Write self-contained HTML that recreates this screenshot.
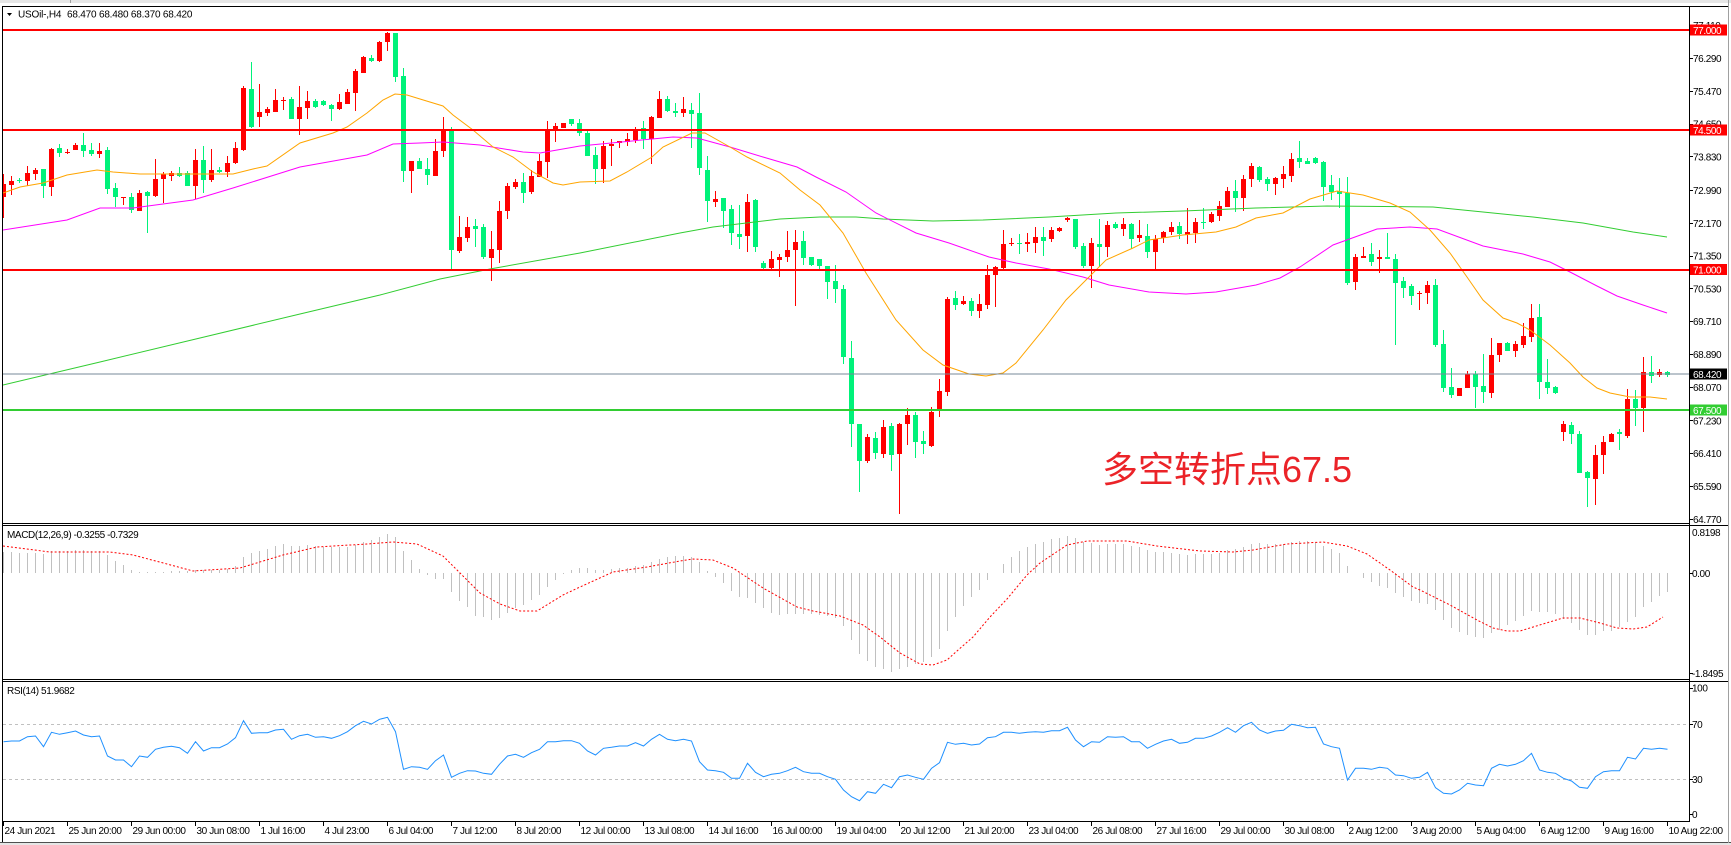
<!DOCTYPE html>
<html><head><meta charset="utf-8">
<style>
html,body{margin:0;padding:0;background:#fff;}
svg{display:block;}
text{font-family:"Liberation Sans","Noto Sans CJK SC",sans-serif;}
.s{font-size:10px;fill:#000;letter-spacing:-0.4px;}
.w{font-size:10px;fill:#fff;letter-spacing:-0.4px;}
</style></head>
<body>
<svg id="c" width="1731" height="845" viewBox="0 0 1731 845" xmlns="http://www.w3.org/2000/svg">
<defs>
<clipPath id="cm"><rect x="3" y="7" width="1686" height="516"/></clipPath>
<clipPath id="cd"><rect x="3" y="526" width="1686" height="153"/></clipPath>
<clipPath id="cr"><rect x="3" y="682" width="1686" height="139"/></clipPath>
</defs>
<rect width="1731" height="845" fill="#fff"/>
<rect x="0" y="0" width="1731" height="3" fill="#e6e6e6"/>
<line x1="70.5" y1="0" x2="70.5" y2="3" stroke="#a0a0a0"/>

<!-- MAIN PANEL -->
<g clip-path="url(#cm)">
  <g id="candles" shape-rendering="crispEdges"></g>
  <polyline fill="none" stroke="#32cd32" stroke-width="1" points="3,385 100,362 200,338 300,314 380,295 440,279 490,269 580,253 680,233 713,227 780,219 820,217 856,217 883,219 933,221 983,220 1049,217 1116,213 1183,211 1256,208 1327,206 1433,207 1483,212 1533,217 1583,223 1633,232 1667,237"/>
  <polyline fill="none" stroke="#ff00ff" stroke-width="1" points="3,230 67,220 100,208 133,208 193,200 233,188 300,167 367,155 393,144 420,143 443,142 480,145 523,152 540,153 580,146 673,137 697,138 730,147 763,157 797,167 816,177 846,192 876,213 916,233 949,243 989,257 1016,263 1049,269 1083,277 1109,285 1149,292 1186,294 1216,292 1256,285 1280,278 1300,267 1333,245 1377,229 1410,227 1437,229 1483,246 1523,254 1550,262 1570,272 1597,286 1617,296 1643,305 1667,313"/>
  <polyline fill="none" stroke="#ffa500" stroke-width="1" points="3,193 20,187 43,183 67,175 97,170 113,172 140,174 180,174 233,174 253,169 267,166 300,143 333,133 347,127 367,113 383,100 395,94 407,95 420,99 443,106 453,115 473,130 493,147 513,157 533,172 553,183 563,185 580,182 610,181 627,172 652,157 663,147 692,133 705,133 730,147 747,157 780,173 800,190 820,205 843,233 866,273 896,320 923,350 943,365 969,374 986,376 1003,373 1016,363 1043,330 1066,300 1089,277 1106,260 1133,248 1149,240 1183,235 1216,232 1236,227 1256,218 1283,213 1310,199 1337,191 1363,195 1390,203 1410,212 1430,230 1450,253 1467,277 1483,300 1503,318 1517,323 1530,330 1550,345 1570,363 1583,377 1597,388 1610,393 1630,397 1650,397 1667,399"/>
  <rect x="3" y="373.5" width="1686" height="1" fill="#778899"/>
  <rect x="3" y="29" width="1686" height="2" fill="#ff0000"/>
  <rect x="3" y="129" width="1686" height="2" fill="#ff0000"/>
  <rect x="3" y="269" width="1686" height="2" fill="#ff0000"/>
  <rect x="3" y="409" width="1686" height="2" fill="#32cd32"/>
  <text x="1102" y="482" font-size="36" fill="#eb2328" style="font-family:'Liberation Sans','Noto Sans CJK SC',sans-serif;">多空转折点67.5</text>
</g>
<polygon points="7,13 12,13 9.5,16" fill="#000"/>
<text class="s" x="18" y="17.5" style="letter-spacing:-0.2px">USOil-,H4</text>
<text class="s" x="67" y="17.5" style="letter-spacing:-0.2px">68.470 68.480 68.370 68.420</text>

<!-- MACD PANEL -->
<g clip-path="url(#cd)">
  <g id="hist" shape-rendering="crispEdges"></g>
  <polyline fill="none" stroke="#ff0000" stroke-width="1" stroke-dasharray="2,2" points="3,546 50,552 110,552 133,555 167,564 193,571 240,568 283,555 317,547 367,544 393,542 417,544 443,556 467,580 480,593 500,604 520,611 537,611 563,595 580,587 613,572 647,567 680,561 693,559 713,560 733,568 763,588 797,607 813,611 840,616 863,625 880,637 900,653 920,664 933,665 947,660 957,651 973,637 990,617 1007,599 1027,575 1040,563 1067,545 1087,541 1127,541 1157,546 1200,551 1233,552 1253,550 1287,544 1323,542 1347,546 1367,554 1390,570 1413,587 1420,590 1450,605 1477,620 1493,628 1507,631 1520,631 1543,624 1563,618 1580,618 1600,623 1617,628 1633,629 1647,627 1663,617"/>
</g>
<text class="s" x="7" y="538">MACD(12,26,9) -0.3255 -0.7329</text>

<!-- RSI PANEL -->
<g clip-path="url(#cr)">
  <line x1="3" y1="724.5" x2="1689" y2="724.5" stroke="#c0c0c0" stroke-dasharray="3,3"/>
  <line x1="3" y1="779.5" x2="1689" y2="779.5" stroke="#c0c0c0" stroke-dasharray="3,3"/>
  <polyline id="rsi" fill="none" stroke="#1e90ff" stroke-width="1" points=""/>
</g>
<text class="s" x="7" y="694">RSI(14) 51.9682</text>

<!-- BORDERS -->
<g fill="none" stroke="#000" stroke-width="1" shape-rendering="crispEdges">
  <line x1="2" y1="6.5" x2="1728" y2="6.5"/>
  <line x1="2.5" y1="6" x2="2.5" y2="843"/>
  <line x1="1689.5" y1="6" x2="1689.5" y2="822"/>
  <line x1="2" y1="523.5" x2="1690" y2="523.5"/>
  <line x1="2" y1="525.5" x2="1728" y2="525.5"/>
  <line x1="2" y1="679.5" x2="1690" y2="679.5"/>
  <line x1="2" y1="681.5" x2="1728" y2="681.5"/>
  <line x1="2" y1="821.5" x2="1690" y2="821.5"/>
  <line x1="0" y1="842.5" x2="1731" y2="842.5" stroke="#505050"/>
</g>
<line x1="1728.5" y1="0" x2="1728.5" y2="843" stroke="#a0a0a0"/>
<rect x="0" y="843" width="1731" height="2" fill="#e6e6e6"/>

<!-- PRICE AXIS -->
<g stroke="#000" shape-rendering="crispEdges">
  <line x1="1689" y1="25.5" x2="1693" y2="25.5"/><line x1="1689" y1="58.5" x2="1693" y2="58.5"/>
  <line x1="1689" y1="91.5" x2="1693" y2="91.5"/><line x1="1689" y1="124.5" x2="1693" y2="124.5"/>
  <line x1="1689" y1="156.5" x2="1693" y2="156.5"/><line x1="1689" y1="190.5" x2="1693" y2="190.5"/>
  <line x1="1689" y1="223.5" x2="1693" y2="223.5"/><line x1="1689" y1="256.5" x2="1693" y2="256.5"/>
  <line x1="1689" y1="288.5" x2="1693" y2="288.5"/><line x1="1689" y1="321.5" x2="1693" y2="321.5"/>
  <line x1="1689" y1="354.5" x2="1693" y2="354.5"/><line x1="1689" y1="387.5" x2="1693" y2="387.5"/>
  <line x1="1689" y1="420.5" x2="1693" y2="420.5"/><line x1="1689" y1="453.5" x2="1693" y2="453.5"/>
  <line x1="1689" y1="486.5" x2="1693" y2="486.5"/><line x1="1689" y1="519.5" x2="1693" y2="519.5"/>
  <line x1="1689" y1="573.5" x2="1693" y2="573.5"/><line x1="1689" y1="673.5" x2="1693" y2="673.5"/>
  <line x1="1689" y1="688.5" x2="1693" y2="688.5"/><line x1="1689" y1="724.5" x2="1693" y2="724.5"/>
  <line x1="1689" y1="779.5" x2="1693" y2="779.5"/><line x1="1689" y1="814.5" x2="1693" y2="814.5"/>
</g>
<text class="s" x="1693" y="29">77.110</text>
<text class="s" x="1693" y="62">76.290</text>
<text class="s" x="1693" y="95">75.470</text>
<text class="s" x="1693" y="127.5">74.650</text>
<text class="s" x="1693" y="160.5">73.830</text>
<text class="s" x="1693" y="194">72.990</text>
<text class="s" x="1693" y="227">72.170</text>
<text class="s" x="1693" y="259.5">71.350</text>
<text class="s" x="1693" y="292.5">70.530</text>
<text class="s" x="1693" y="325">69.710</text>
<text class="s" x="1693" y="358">68.890</text>
<text class="s" x="1693" y="391">68.070</text>
<text class="s" x="1693" y="424.5">67.230</text>
<text class="s" x="1693" y="457">66.410</text>
<text class="s" x="1693" y="490">65.590</text>
<text class="s" x="1693" y="523">64.770</text>

<rect x="1690" y="24.5" width="37" height="11" fill="#ff0000"/>
<text class="w" x="1693" y="34">77.000</text>
<rect x="1690" y="124.5" width="37" height="11" fill="#ff0000"/>
<text class="w" x="1693" y="134">74.500</text>
<rect x="1690" y="264" width="37" height="11" fill="#ff0000"/>
<text class="w" x="1693" y="273.5">71.000</text>
<rect x="1690" y="368.5" width="37" height="11" fill="#000"/>
<text class="w" x="1693" y="378">68.420</text>
<rect x="1690" y="404.5" width="37" height="11" fill="#32cd32"/>
<text class="w" x="1693" y="414">67.500</text>

<text class="s" x="1692" y="536">0.8198</text>
<text class="s" x="1692" y="577">0.00</text>
<text class="s" x="1692" y="677">-1.8495</text>
<text class="s" x="1692" y="691.5">100</text>
<text class="s" x="1692" y="728">70</text>
<text class="s" x="1692" y="783">30</text>
<text class="s" x="1692" y="818">0</text>

<!-- TIME AXIS -->
<g id="tt" stroke="#000" shape-rendering="crispEdges"></g>
<text class="s" x="4.5" y="834">24 Jun 2021</text>
<text class="s" x="68.5" y="834">25 Jun 20:00</text>
<text class="s" x="132.5" y="834">29 Jun 00:00</text>
<text class="s" x="196.5" y="834">30 Jun 08:00</text>
<text class="s" x="260.5" y="834">1 Jul 16:00</text>
<text class="s" x="324.5" y="834">4 Jul 23:00</text>
<text class="s" x="388.5" y="834">6 Jul 04:00</text>
<text class="s" x="452.5" y="834">7 Jul 12:00</text>
<text class="s" x="516.5" y="834">8 Jul 20:00</text>
<text class="s" x="580.5" y="834">12 Jul 00:00</text>
<text class="s" x="644.5" y="834">13 Jul 08:00</text>
<text class="s" x="708.5" y="834">14 Jul 16:00</text>
<text class="s" x="772.5" y="834">16 Jul 00:00</text>
<text class="s" x="836.5" y="834">19 Jul 04:00</text>
<text class="s" x="900.5" y="834">20 Jul 12:00</text>
<text class="s" x="964.5" y="834">21 Jul 20:00</text>
<text class="s" x="1028.5" y="834">23 Jul 04:00</text>
<text class="s" x="1092.5" y="834">26 Jul 08:00</text>
<text class="s" x="1156.5" y="834">27 Jul 16:00</text>
<text class="s" x="1220.5" y="834">29 Jul 00:00</text>
<text class="s" x="1284.5" y="834">30 Jul 08:00</text>
<text class="s" x="1348.5" y="834">2 Aug 12:00</text>
<text class="s" x="1412.5" y="834">3 Aug 20:00</text>
<text class="s" x="1476.5" y="834">5 Aug 04:00</text>
<text class="s" x="1540.5" y="834">6 Aug 12:00</text>
<text class="s" x="1604.5" y="834">9 Aug 16:00</text>
<text class="s" x="1668.5" y="834">10 Aug 22:00</text>
</svg>
<script>
(function(){
var NS="http://www.w3.org/2000/svg";
function el(t,a,p){var e=document.createElementNS(NS,t);for(var k in a)e.setAttribute(k,a[k]);p.appendChild(e);return e;}
var K=[
[1,184,197,174,218],[1,181,185,176,195],[0,180,181,178,183],[1,173,181,166,186],[1,170,174,168,180],[0,169,186,169,198],[1,149,187,148,196],[0,148,153,144,157],[1,152,153,149,154],[1,145,150,143,150],
[0,145,151,133,157],[0,150,154,143,156],[1,151,154,143,158],[0,150,189,147,194],[0,188,197,183,207],[1,197,198,197,205],[0,197,210,193,213],[1,193,211,190,211],[0,192,196,191,233],[1,179,196,159,197],
[1,174,179,172,203],[1,173,176,171,181],[0,173,176,167,177],[0,173,186,171,186],[1,160,186,149,199],[0,160,180,146,193],[1,170,180,149,182],[0,170,172,167,173],[1,163,172,156,177],[1,148,163,142,164],
[1,88,150,86,151],[0,89,127,62,128],[1,112,117,84,127],[1,109,113,107,116],[1,100,112,89,112],[1,100,101,97,110],[0,99,119,97,119],[1,107,119,86,135],[1,101,108,91,119],[0,101,107,99,108],
[0,101,105,100,106],[0,105,109,104,121],[1,102,109,94,110],[1,92,104,89,104],[1,71,93,69,111],[1,57,73,56,73],[0,58,61,55,62],[1,42,61,41,62],[1,33,42,32,51],[0,33,77,33,82],
[0,76,171,68,182],[1,161,171,161,193],[0,161,169,158,169],[0,169,175,158,185],[1,151,176,139,176],[1,131,151,117,157],[0,131,250,127,269],[1,237,251,216,253],[1,227,238,217,242],[0,226,229,219,247],
[0,227,257,224,259],[1,249,258,231,281],[1,211,250,201,263],[1,186,211,183,219],[1,182,187,179,189],[0,182,193,173,203],[1,176,192,170,194],[1,161,177,154,177],[1,130,162,121,178],[1,126,130,123,142],
[1,123,128,123,128],[0,119,124,119,126],[0,123,133,119,136],[0,133,156,131,156],[0,155,169,147,184],[1,146,169,141,183],[1,144,146,139,166],[1,141,143,141,148],[1,139,142,133,146],[1,131,140,127,143],
[0,128,139,121,149],[1,117,139,116,164],[1,99,118,91,118],[0,99,111,96,112],[0,111,113,103,117],[1,109,113,97,117],[0,110,114,103,148],[0,113,168,93,175],[0,170,201,156,222],[1,199,202,191,207],
[0,198,211,198,228],[0,209,233,205,245],[0,234,237,205,249],[1,202,236,194,252],[0,200,247,199,252],[0,263,268,261,269],[1,259,268,251,269],[1,257,260,254,277],[1,250,257,231,262],[1,242,250,230,306],
[0,241,258,231,265],[0,257,265,257,266],[0,259,266,259,269],[0,266,282,266,299],[0,281,289,265,303],[0,289,357,285,364],[0,358,424,341,447],[0,424,461,424,492],[1,437,461,434,463],[0,438,453,432,459],
[1,427,454,420,458],[0,426,455,423,471],[1,424,454,423,514],[1,415,424,408,445],[0,415,442,412,458],[0,441,444,431,454],[1,412,446,407,447],[1,391,410,379,417],[1,299,392,297,396],[0,298,305,291,310],
[1,301,304,296,305],[0,301,311,298,316],[1,304,311,294,318],[1,275,305,265,309],[1,267,275,266,307],[1,244,268,230,269],[1,243,244,238,246],[0,243,244,234,254],[1,242,244,233,252],[1,237,243,227,253],
[0,237,241,227,256],[1,230,239,227,242],[1,228,231,227,232],[1,218,220,217,222],[0,219,247,219,249],[0,246,266,243,268],[1,243,266,238,288],[0,244,247,219,267],[1,225,247,221,257],[0,224,228,222,229],
[1,224,229,218,236],[0,224,239,223,249],[1,235,238,220,242],[0,236,252,224,258],[1,239,252,235,270],[1,232,238,231,243],[1,227,232,222,235],[0,226,234,222,239],[1,232,235,208,244],[1,222,233,218,243],
[0,222,223,208,229],[1,214,222,212,223],[1,206,216,201,221],[1,191,207,187,207],[0,191,198,180,212],[1,179,198,175,211],[1,166,179,163,187],[0,167,180,166,182],[0,179,184,177,191],[1,178,184,177,195],
[1,174,179,166,188],[1,159,176,153,182],[0,158,162,141,168],[0,161,164,158,164],[0,158,163,157,164],[0,162,187,161,201],[0,185,192,175,200],[0,191,194,178,208],[0,193,283,177,285],[1,257,282,254,290],
[1,256,258,247,258],[0,254,262,243,266],[1,257,259,250,273],[0,257,259,233,259],[0,259,283,254,345],[0,281,288,277,298],[0,286,296,284,305],[1,293,294,291,310],[1,285,293,281,304],[0,285,345,279,347],
[0,344,388,330,392],[0,387,395,368,398],[1,388,396,388,396],[1,374,388,371,388],[0,374,387,371,408],[0,386,392,354,403],[1,355,393,338,398],[1,343,355,343,362],[0,343,351,342,351],[1,344,351,341,357],
[1,336,345,323,348],[1,318,337,304,342],[0,317,382,304,399],[0,382,388,359,394],[0,387,393,386,394],[1,424,432,421,441],[0,425,434,422,444],[0,434,473,431,473],[0,472,478,471,507],[1,455,479,445,505],
[1,442,455,436,474],[1,434,442,433,442],[0,432,434,429,450],[1,399,436,389,438],[0,399,408,390,426],[1,372,408,357,432],[0,372,376,356,383],[1,372,375,369,377],[0,372,375,371,377]
];
var H=[552,552,553,553,553,554,551,551,551,550,550,551,551,555,561,565,570,572,572,572,572,571,571,571,570,570,570,570,569,566,557,553,551,549,546,544,546,546,545,546,547,547,547,547,545,542,540,537,534,537,551,560,569,575,579,579,592,601,607,616,617,620,618,613,608,605,600,595,587,580,574,570,568,568,570,570,569,568,568,566,565,562,559,557,556,556,557,562,571,577,583,591,597,598,603,608,613,615,614,614,614,614,615,616,618,626,640,654,661,667,669,672,669,667,664,662,657,649,631,617,606,597,590,580,573,564,557,551,547,544,542,539,538,536,538,542,543,545,544,544,544,546,547,550,552,552,553,554,555,554,554,554,553,550,549,547,544,543,544,544,544,542,541,541,542,546,549,553,566,573,578,582,586,588,593,597,601,603,604,610,620,628,632,635,637,638,633,630,625,621,616,611,612,612,614,619,623,630,635,635,631,631,627,622,617,607,602,596,592];
var R=[741.7,741,741,736.7,736,746.7,732.3,734.3,732.7,731,735,736.7,736,756,760,760,766.7,756,757.3,749.3,747.3,746.3,747.7,753.3,741.7,751,747.7,747.7,744,737.7,720.7,733.3,732.7,732.7,730,729.3,739.3,735.7,734.3,737.3,736.7,738.3,735.7,731.7,725.7,721.3,724,719.3,717.3,731.7,769.3,766.7,767.3,769.3,760.7,755,777.3,773.3,770.7,771,
773.3,774.3,764.3,756,754.3,757.3,752.7,749.3,741.7,741.7,740.7,740.7,743.3,751,755,748.3,747.3,746,746,742.7,746,739.3,734.3,739.3,740.7,739.3,741,761.7,770,770.7,772.3,778.3,778.3,763.3,772.3,776.7,774.3,773.3,770.7,767.3,771.7,773.3,773.3,776.7,779.3,790,796.7,800.7,791.7,793.3,784.3,787.7,776.7,775,777.3,779.3,768.3,762.7,742.3,744.3,
743.3,745,744,737.7,736.7,732.3,732.3,733.3,732.3,731.7,732.3,730.7,730.7,727.3,740,746.7,741.7,742.3,736.7,737.3,736.7,741.7,741.7,748.3,744.3,741,739.3,743.3,742.3,738.3,738.3,736,732.3,727.7,732.3,725.7,722.3,730,733.3,731,730.3,724.3,725.7,727.7,727.3,744,746.7,748.3,780,768.3,768.3,769.3,767.3,768.3,775,775.7,778.3,777.3,
772.3,787.7,793.3,794,790,783.3,785,785.7,768.3,764.3,766,764.3,760.7,753.3,770,772.3,773.3,778.3,781,787.3,788.3,776.7,771.7,770.7,770.7,757.3,759,748.3,749.3,748.3,749.3];
var gc=document.getElementById('candles');
for(var k=0;k<K.length;k++){var d=K[k],col=d[0]?'#ff0000':'#00f27a',x=8*k;
 el('rect',{x:x+3,y:d[3],width:1,height:Math.max(d[4]-d[3],1),fill:col},gc);
 el('rect',{x:x+1,y:d[1],width:5,height:Math.max(d[2]-d[1],1),fill:col},gc);}
var gh=document.getElementById('hist');
for(var k=0;k<H.length;k++){var v=H[k],y0=Math.min(v,573),h=Math.abs(v-573);if(h>=1)el('rect',{x:8*k+3,y:y0,width:1,height:h,fill:'#c0c0c0'},gh);}
var pts=[];for(var k=0;k<R.length;k++)pts.push((3.5+8*k)+','+R[k]);
document.getElementById('rsi').setAttribute('points',pts.join(' '));
var tt=document.getElementById('tt');
for(var i=0;i<27;i++){var x=3.5+64*i;el('line',{x1:x,y1:821,x2:x,y2:826},tt);}
})();
</script>
</body></html>
